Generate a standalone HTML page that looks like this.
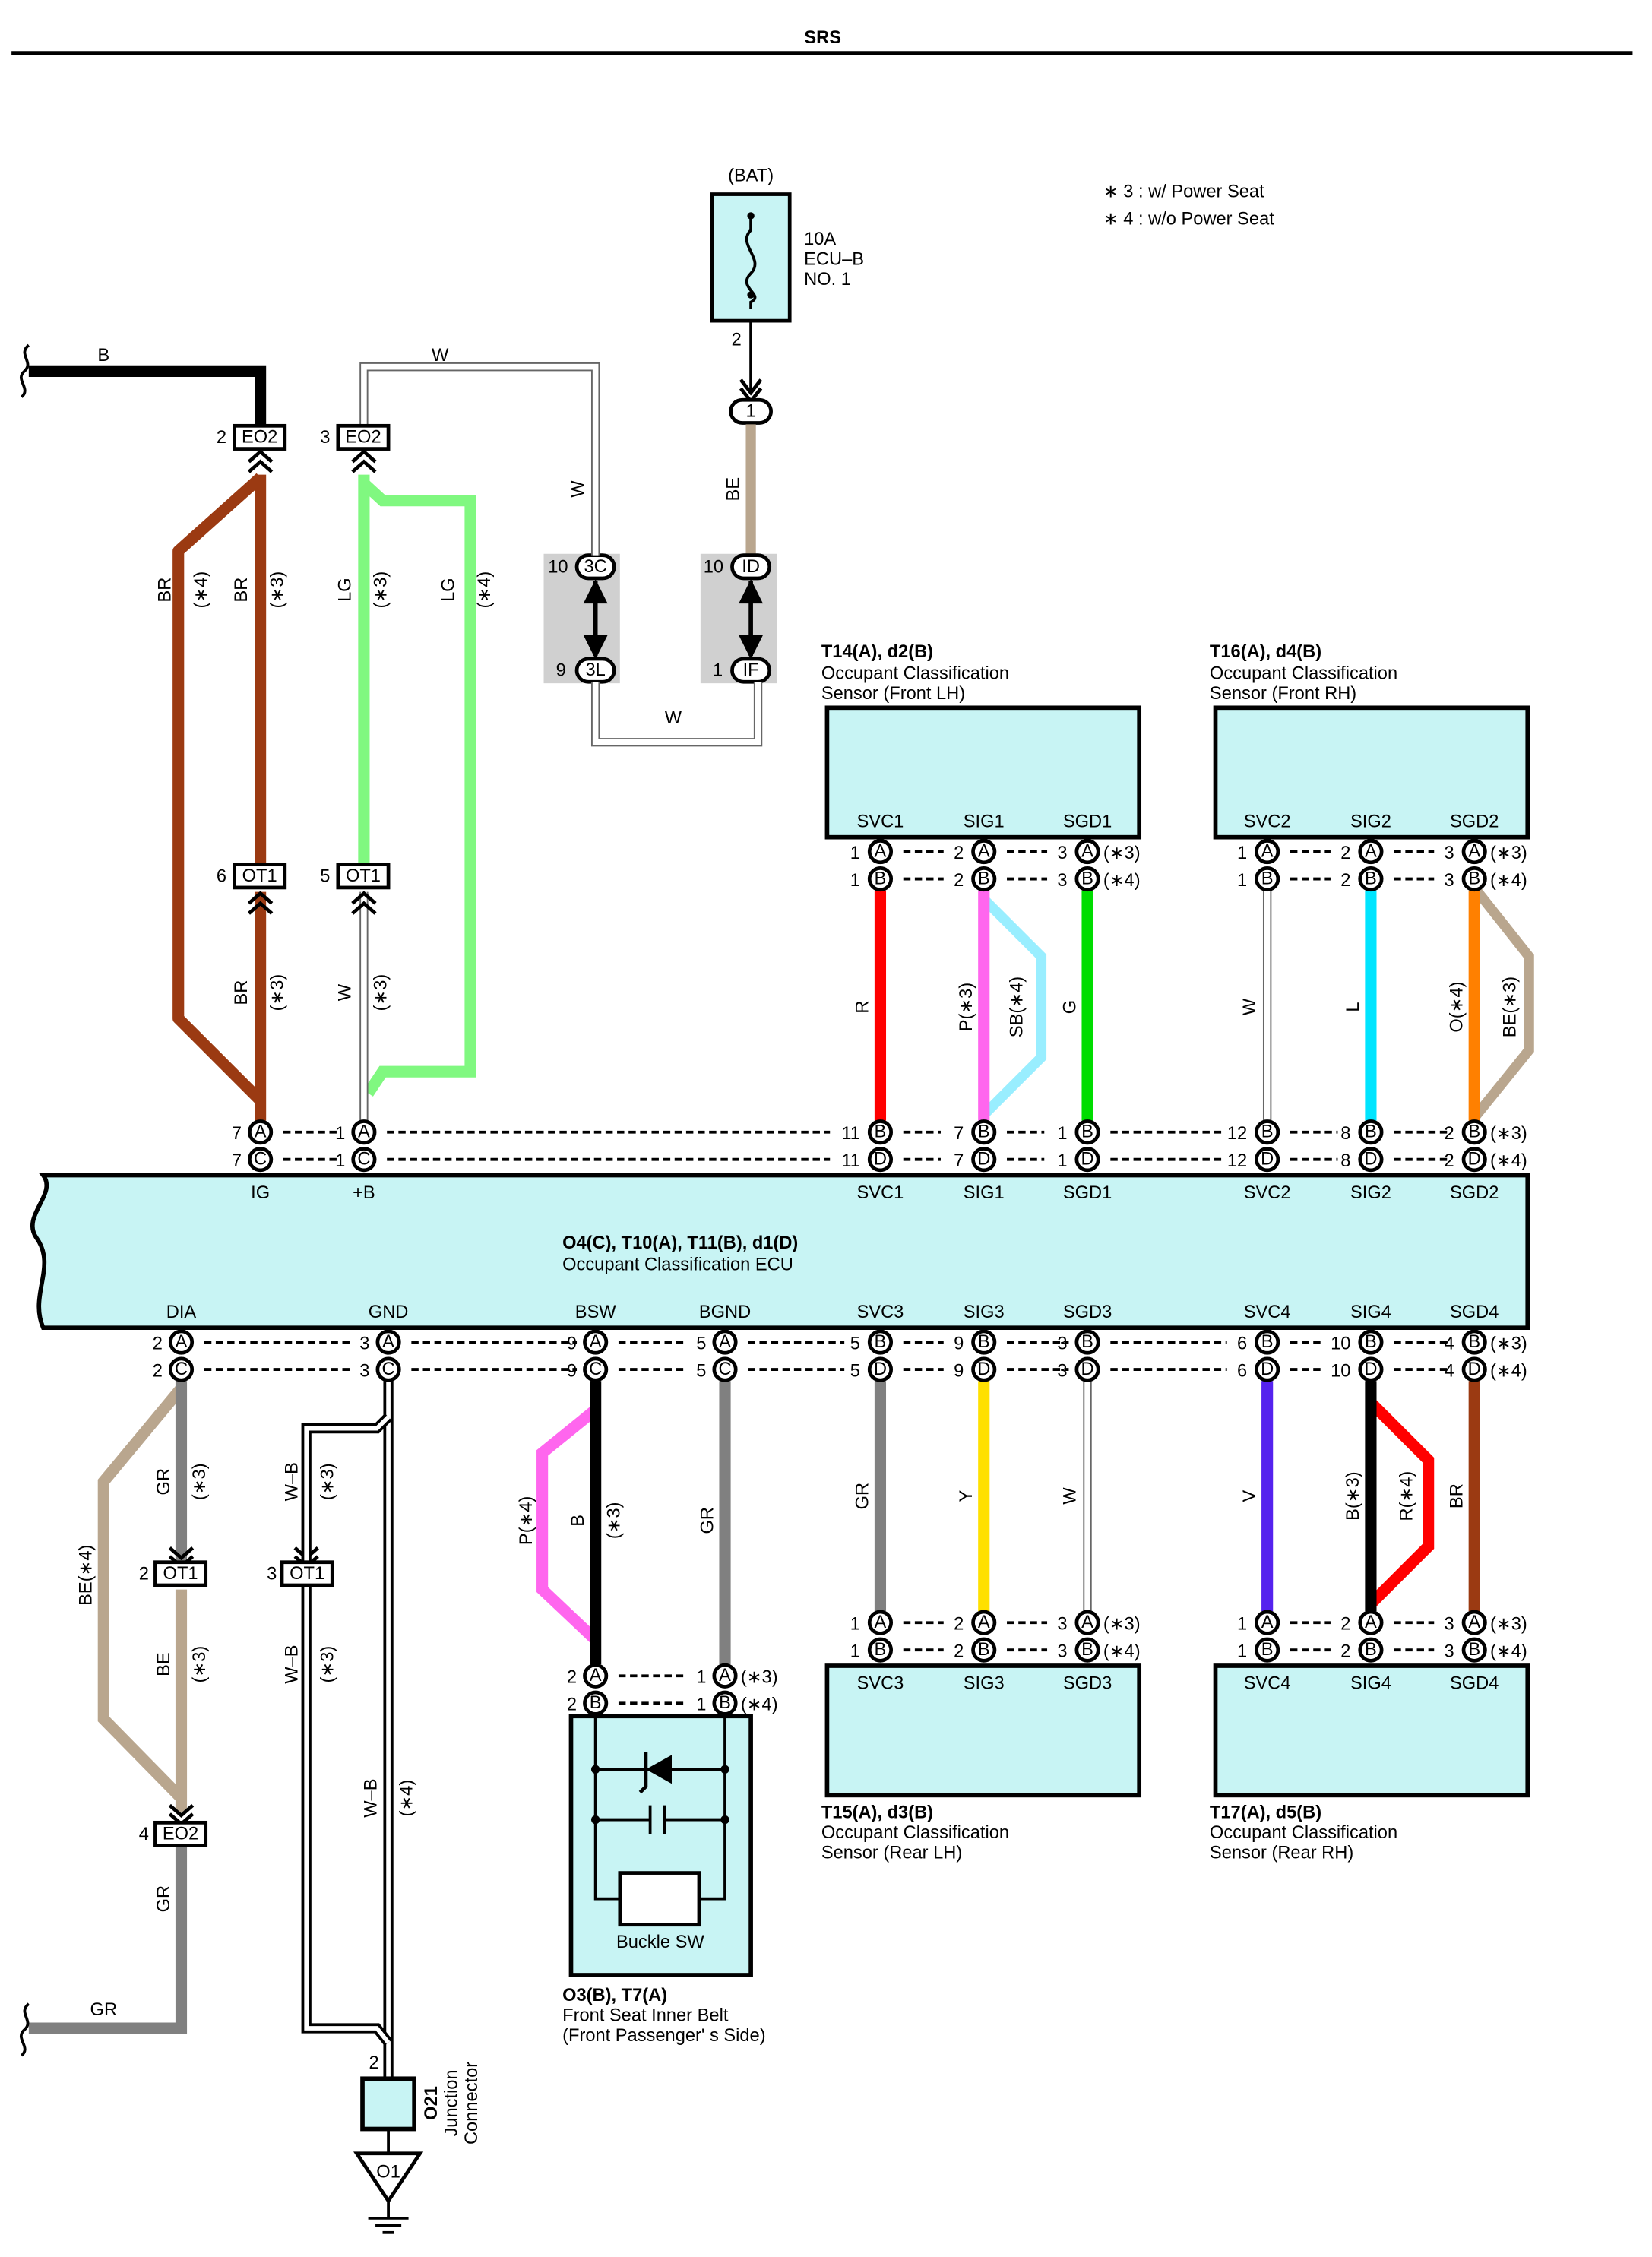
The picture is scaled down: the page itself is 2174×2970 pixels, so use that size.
<!DOCTYPE html>
<html><head><meta charset="utf-8"><style>
html,body{margin:0;padding:0;background:#fff}
svg{display:block}
text{font-family:"Liberation Sans",sans-serif;font-size:12.5px;fill:#000}
.b{font-weight:bold}
.c{text-anchor:middle;dominant-baseline:central}
.pc circle{fill:#fff;stroke:#000;stroke-width:2.5}
.d{stroke:#000;stroke-width:2;stroke-dasharray:5,3;fill:none}
.w{fill:none;stroke-linejoin:miter}
</style></head><body>
<svg width="2174" height="2970" viewBox="0 0 1148.5 1569" preserveAspectRatio="none" xmlns="http://www.w3.org/2000/svg">
<rect width="1150" height="1570" fill="#fff"/>
<text x="572" y="30" class="b" text-anchor="middle" font-size="15">SRS</text>
<line x1="8" y1="37" x2="1135" y2="37" stroke="#000" stroke-width="3"/>
<text x="767" y="137">∗ 3 : w/ Power Seat</text>
<text x="767" y="156">∗ 4 : w/o Power Seat</text>

<!-- BAT fuse -->
<text x="522" y="126" text-anchor="middle">(BAT)</text>
<rect x="495" y="135" width="54" height="88" fill="#c8f4f4" stroke="#000" stroke-width="2.5"/>
<path d="M522 150 v10 c-10 10 10 20 0 30 c-10 10 10 15 0 20 v5" fill="none" stroke="#000" stroke-width="2"/>
<circle cx="522" cy="150" r="2.5"/><circle cx="522" cy="205" r="2.5"/>
<text x="559" y="170">10A</text><text x="559" y="184">ECU–B</text><text x="559" y="198">NO. 1</text>
<text x="512" y="240" text-anchor="middle">2</text>
<line x1="522" y1="223" x2="522" y2="274" stroke="#000" stroke-width="2"/>
<path d="M515 264 l7 9 l7 -9 M515 270 l7 9 l7 -9" fill="none" stroke="#000" stroke-width="2.5"/>
<rect x="508" y="278" width="28" height="16" rx="8" fill="#fff" stroke="#000" stroke-width="2.5"/>
<text x="522" y="286" class="c">1</text>
<line x1="522" y1="295" x2="522" y2="385" stroke="#b9a68e" stroke-width="7"/>

<!-- gray connector boxes -->
<rect x="378" y="385" width="53" height="90" fill="#d0d0d0"/>
<rect x="487" y="385" width="53" height="90" fill="#d0d0d0"/>
<g>
<rect x="401" y="386" width="26" height="16" rx="8" fill="#fff" stroke="#000" stroke-width="2.5"/><text x="414" y="394" class="c">3C</text>
<rect x="401" y="458" width="26" height="16" rx="8" fill="#fff" stroke="#000" stroke-width="2.5"/><text x="414" y="466" class="c">3L</text>
<rect x="509" y="386" width="26" height="16" rx="8" fill="#fff" stroke="#000" stroke-width="2.5"/><text x="522" y="394" class="c">ID</text>
<rect x="509" y="458" width="26" height="16" rx="8" fill="#fff" stroke="#000" stroke-width="2.5"/><text x="522" y="466" class="c">IF</text>
</g>
<text x="388" y="398" text-anchor="middle">10</text><text x="390" y="470" text-anchor="middle">9</text>
<text x="496" y="398" text-anchor="middle">10</text><text x="499" y="470" text-anchor="middle">1</text>
<g stroke="#000" stroke-width="3" fill="#000">
<line x1="414" y1="404" x2="414" y2="456"/><line x1="522" y1="404" x2="522" y2="456"/>
<path d="M408 418 l6 -12 l6 12z M408 443 l6 12 l6 -12z M516 418 l6 -12 l6 12z M516 443 l6 12 l6 -12z"/>
</g>

<!-- W wires top -->
<g class="w">
<path d="M414 386 V255 H253 V296" stroke="#666" stroke-width="6"/>
<path d="M414 386 V255 H253 V296" stroke="#fff" stroke-width="4"/>
<path d="M414 474 V516 H527 V474" stroke="#666" stroke-width="6"/>
<path d="M414 474 V516 H527 V474" stroke="#fff" stroke-width="4"/>
</g>
<text x="306" y="251" text-anchor="middle">W</text>
<text x="468" y="503" text-anchor="middle">W</text>

<!-- B wire -->
<path d="M20 258 H181 V296" fill="none" stroke="#000" stroke-width="8"/>
<path d="M20 240 c-8 6 4 12 -3 18 c-7 6 5 12 -2 18" fill="none" stroke="#000" stroke-width="2"/>
<text x="72" y="251" text-anchor="middle">B</text>

<!-- EO2 top connectors -->
<rect x="163" y="296" width="35" height="16" fill="#fff" stroke="#000" stroke-width="2.5"/><text x="180.5" y="304" class="c">EO2</text><text x="154" y="308" text-anchor="middle">2</text>
<rect x="235" y="296" width="35" height="16" fill="#fff" stroke="#000" stroke-width="2.5"/><text x="252.5" y="304" class="c">EO2</text><text x="226" y="308" text-anchor="middle">3</text>

<!-- BR wires -->
<g fill="none" stroke="#9b3a12" stroke-width="8" stroke-linejoin="round">
<path d="M181 330 V600"/><path d="M181 620 V779"/>
<path d="M181 332 L124 383 V708 L181 765"/>
</g>
<!-- LG wires -->
<g fill="none" stroke="#80f880" stroke-width="8">
<path d="M253 330 V600"/>
<path d="M253 336 L266 348 H327 V745 H266 L256 760"/>
</g>
<path d="M253 620 V779" fill="none" stroke="#666" stroke-width="6"/>
<path d="M253 620 V779" fill="none" stroke="#fff" stroke-width="4"/>
<!-- chevrons -->
<g fill="none" stroke="#000" stroke-width="2.5">
<path d="M173 321 l8 -7 l8 7 M173 328 l8 -7 l8 7"/>
<path d="M245 321 l8 -7 l8 7 M245 328 l8 -7 l8 7"/>
<path d="M173 628 l8 -7 l8 7 M173 635 l8 -7 l8 7"/>
<path d="M245 628 l8 -7 l8 7 M245 635 l8 -7 l8 7"/>
</g>
<rect x="163" y="601" width="35" height="16" fill="#fff" stroke="#000" stroke-width="2.5"/><text x="180.5" y="609" class="c">OT1</text><text x="154" y="613" text-anchor="middle">6</text>
<rect x="235" y="601" width="35" height="16" fill="#fff" stroke="#000" stroke-width="2.5"/><text x="252.5" y="609" class="c">OT1</text><text x="226" y="613" text-anchor="middle">5</text>

<!-- Sensor boxes top -->
<rect x="575" y="492" width="217" height="90" fill="#c8f4f4" stroke="#000" stroke-width="3"/>
<rect x="845" y="492" width="217" height="90" fill="#c8f4f4" stroke="#000" stroke-width="3"/>
<text x="571" y="457" class="b">T14(A), d2(B)</text><text x="571" y="472">Occupant Classification</text><text x="571" y="486">Sensor (Front LH)</text>
<text x="841" y="457" class="b">T16(A), d4(B)</text><text x="841" y="472">Occupant Classification</text><text x="841" y="486">Sensor (Front RH)</text>
<g text-anchor="middle">
<text x="612" y="575">SVC1</text><text x="684" y="575">SIG1</text><text x="756" y="575">SGD1</text>
<text x="881" y="575">SVC2</text><text x="953" y="575">SIG2</text><text x="1025" y="575">SGD2</text>
</g>

<!-- top right wires -->
<line x1="612" y1="619" x2="612" y2="779" stroke="#ff0000" stroke-width="8"/>
<path d="M684 625 L724 665 V735 L684 775" fill="none" stroke="#99eeff" stroke-width="7"/>
<line x1="684" y1="619" x2="684" y2="779" stroke="#ff66ee" stroke-width="8"/>
<line x1="756" y1="619" x2="756" y2="779" stroke="#00dd00" stroke-width="8"/>
<line x1="881" y1="619" x2="881" y2="779" stroke="#666" stroke-width="6"/><line x1="881" y1="619" x2="881" y2="779" stroke="#fff" stroke-width="4"/>
<line x1="953" y1="619" x2="953" y2="779" stroke="#00e5ff" stroke-width="8"/>
<path d="M1025 617 L1063 665 V730 L1025 777" fill="none" stroke="#b9a68e" stroke-width="7"/>
<line x1="1025" y1="619" x2="1025" y2="779" stroke="#ff8000" stroke-width="8"/>

<!-- ECU box -->
<path d="M30 817 H1062 V923 H30 C20 900 40 880 25 860 C15 845 40 830 30 817 Z" fill="#c8f4f4" stroke="#000" stroke-width="3"/>
<text x="391" y="868" class="b">O4(C), T10(A), T11(B), d1(D)</text>
<text x="391" y="883">Occupant Classification ECU</text>
<g text-anchor="middle">
<text x="181" y="833">IG</text><text x="253" y="833">+B</text><text x="612" y="833">SVC1</text><text x="684" y="833">SIG1</text><text x="756" y="833">SGD1</text><text x="881" y="833">SVC2</text><text x="953" y="833">SIG2</text><text x="1025" y="833">SGD2</text>
<text x="126" y="916">DIA</text><text x="270" y="916">GND</text><text x="414" y="916">BSW</text><text x="504" y="916">BGND</text><text x="612" y="916">SVC3</text><text x="684" y="916">SIG3</text><text x="756" y="916">SGD3</text><text x="881" y="916">SVC4</text><text x="953" y="916">SIG4</text><text x="1025" y="916">SGD4</text>
</g>

<!-- dashed lines -->
<g class="d">
<path d="M197 787 H235 M269 787 H577 M628 787 H654 M700 787 H726 M772 787 H852 M897 787 H930 M969 787 H1007"/>
<path d="M197 806 H235 M269 806 H577 M628 806 H654 M700 806 H726 M772 806 H852 M897 806 H930 M969 806 H1007"/>
<path d="M628 592 H656 M700 592 H728 M897 592 H925 M969 592 H997"/>
<path d="M628 611 H656 M700 611 H728 M897 611 H925 M969 611 H997"/>
<path d="M142 933 H243 M286 933 H401 M430 933 H477 M520 933 H587 M628 933 H656 M700 933 H743 M772 933 H853 M897 933 H920 M969 933 H1007"/>
<path d="M142 952 H243 M286 952 H401 M430 952 H477 M520 952 H587 M628 952 H656 M700 952 H743 M772 952 H853 M897 952 H920 M969 952 H1007"/>
<path d="M628 1128 H656 M700 1128 H728 M897 1128 H925 M969 1128 H997"/>
<path d="M628 1147 H656 M700 1147 H728 M897 1147 H925 M969 1147 H997"/>
<path d="M430 1165 H477 M430 1184 H477"/>
</g>

<!-- bottom wires -->
<path d="M126 965 L72 1030 V1195 L126 1250" fill="none" stroke="#b9a68e" stroke-width="8"/>
<line x1="126" y1="960" x2="126" y2="1085" stroke="#808080" stroke-width="8"/>
<line x1="126" y1="1105" x2="126" y2="1260" stroke="#b9a68e" stroke-width="8"/>
<path d="M126 1283 V1410 H20" fill="none" stroke="#808080" stroke-width="8"/>
<path d="M20 1393 c-8 6 4 12 -3 18 c-7 6 5 12 -2 18" fill="none" stroke="#000" stroke-width="2"/>
<text x="72" y="1401" text-anchor="middle">GR</text>
<g fill="none" stroke="#000" stroke-width="2.5">
<path d="M118 1076 l8 7 l8 -7 M118 1082 l8 7 l8 -7"/>
<path d="M118 1255 l8 7 l8 -7 M118 1261 l8 7 l8 -7"/>
<path d="M205 1076 l8 7 l8 -7 M205 1082 l8 7 l8 -7"/>
</g>
<rect x="108" y="1086" width="35" height="16" fill="#fff" stroke="#000" stroke-width="2.5"/><text x="125.5" y="1094" class="c">OT1</text><text x="100" y="1098" text-anchor="middle">2</text>
<rect x="108" y="1267" width="35" height="16" fill="#fff" stroke="#000" stroke-width="2.5"/><text x="125.5" y="1275" class="c">EO2</text><text x="100" y="1279" text-anchor="middle">4</text>

<!-- W-B -->
<g fill="none">
<path d="M270 960 V1445" stroke="#000" stroke-width="7"/><path d="M270 960 V1445" stroke="#fff" stroke-width="3"/>
<path d="M270 985 L262 993 H213 V1085 M213 1102 V1410 H262 L270 1420" stroke="#000" stroke-width="7"/>
<path d="M270 985 L262 993 H213 V1085 M213 1102 V1410 H262 L270 1420" stroke="#fff" stroke-width="3"/>
</g>
<rect x="196" y="1086" width="35" height="16" fill="#fff" stroke="#000" stroke-width="2.5"/><text x="213.5" y="1094" class="c">OT1</text><text x="189" y="1098" text-anchor="middle">3</text>
<text x="260" y="1438" text-anchor="middle">2</text>
<rect x="252" y="1445" width="36" height="35" fill="#c8f4f4" stroke="#000" stroke-width="3"/>
<line x1="270" y1="1480" x2="270" y2="1497" stroke="#000" stroke-width="2"/>
<path d="M248 1497 H292 L270 1530 Z" fill="#fff" stroke="#000" stroke-width="2.5"/>
<text x="270" y="1510" class="c">O1</text>
<g stroke="#000" stroke-width="2"><line x1="270" y1="1530" x2="270" y2="1542"/><line x1="256" y1="1542" x2="284" y2="1542"/><line x1="261" y1="1547" x2="279" y2="1547"/><line x1="266" y1="1552" x2="274" y2="1552"/></g>
<text transform="translate(300,1462) rotate(-90)" class="c b">O21</text>
<text transform="translate(314,1462) rotate(-90)" class="c">Junction</text>
<text transform="translate(328,1462) rotate(-90)" class="c">Connector</text>

<!-- BSW / BGND -->
<path d="M414 980 L377 1010 V1105 L414 1140" fill="none" stroke="#ff66ee" stroke-width="8"/>
<line x1="414" y1="960" x2="414" y2="1157" stroke="#000" stroke-width="8"/>
<line x1="504" y1="960" x2="504" y2="1157" stroke="#808080" stroke-width="8"/>
<rect x="397" y="1193" width="125" height="180" fill="#c8f4f4" stroke="#000" stroke-width="3"/>
<g stroke="#000" stroke-width="2" fill="none">
<path d="M414 1193 V1320 H431 M504 1193 V1320 H486 M414 1230 H504 M414 1265 H452 M462 1265 H504"/>
<line x1="452" y1="1255" x2="452" y2="1275"/><line x1="462" y1="1255" x2="462" y2="1275"/>
<rect x="431" y="1302" width="55" height="36" fill="#fff" stroke-width="2.5"/>
</g>
<path d="M449 1230 L467 1220 V1240 Z" fill="#000"/>
<path d="M449 1218 V1242 l-4 4" stroke="#000" stroke-width="2.5" fill="none"/>
<g fill="#000"><circle cx="414" cy="1230" r="3"/><circle cx="504" cy="1230" r="3"/><circle cx="414" cy="1265" r="3"/><circle cx="504" cy="1265" r="3"/></g>
<text x="459" y="1354" text-anchor="middle">Buckle SW</text>
<text x="391" y="1391" class="b">O3(B), T7(A)</text><text x="391" y="1405">Front Seat Inner Belt</text><text x="391" y="1419">(Front Passenger' s Side)</text>

<!-- bottom sensors wires -->
<line x1="612" y1="960" x2="612" y2="1120" stroke="#808080" stroke-width="8"/>
<line x1="684" y1="960" x2="684" y2="1120" stroke="#ffe000" stroke-width="8"/>
<line x1="756" y1="960" x2="756" y2="1120" stroke="#666" stroke-width="6"/><line x1="756" y1="960" x2="756" y2="1120" stroke="#fff" stroke-width="4"/>
<line x1="881" y1="960" x2="881" y2="1120" stroke="#5522ee" stroke-width="8"/>
<path d="M953 975 L993 1015 V1075 L953 1115" fill="none" stroke="#ff0000" stroke-width="8"/>
<line x1="953" y1="960" x2="953" y2="1120" stroke="#000" stroke-width="8"/>
<line x1="1025" y1="960" x2="1025" y2="1120" stroke="#9b3a12" stroke-width="8"/>
<rect x="575" y="1158" width="217" height="90" fill="#c8f4f4" stroke="#000" stroke-width="3"/>
<rect x="845" y="1158" width="217" height="90" fill="#c8f4f4" stroke="#000" stroke-width="3"/>
<g text-anchor="middle">
<text x="612" y="1174">SVC3</text><text x="684" y="1174">SIG3</text><text x="756" y="1174">SGD3</text>
<text x="881" y="1174">SVC4</text><text x="953" y="1174">SIG4</text><text x="1025" y="1174">SGD4</text>
</g>
<text x="571" y="1264" class="b">T15(A), d3(B)</text><text x="571" y="1278">Occupant Classification</text><text x="571" y="1292">Sensor (Rear LH)</text>
<text x="841" y="1264" class="b">T17(A), d5(B)</text><text x="841" y="1278">Occupant Classification</text><text x="841" y="1292">Sensor (Rear RH)</text>

<!-- pins -->
<g class="pc">
<circle cx="181" cy="787" r="7.5"/><circle cx="253" cy="787" r="7.5"/><circle cx="612" cy="787" r="7.5"/><circle cx="684" cy="787" r="7.5"/><circle cx="756" cy="787" r="7.5"/><circle cx="881" cy="787" r="7.5"/><circle cx="953" cy="787" r="7.5"/><circle cx="1025" cy="787" r="7.5"/>
<circle cx="181" cy="806" r="7.5"/><circle cx="253" cy="806" r="7.5"/><circle cx="612" cy="806" r="7.5"/><circle cx="684" cy="806" r="7.5"/><circle cx="756" cy="806" r="7.5"/><circle cx="881" cy="806" r="7.5"/><circle cx="953" cy="806" r="7.5"/><circle cx="1025" cy="806" r="7.5"/>
<circle cx="612" cy="592" r="7.5"/><circle cx="684" cy="592" r="7.5"/><circle cx="756" cy="592" r="7.5"/><circle cx="881" cy="592" r="7.5"/><circle cx="953" cy="592" r="7.5"/><circle cx="1025" cy="592" r="7.5"/>
<circle cx="612" cy="611" r="7.5"/><circle cx="684" cy="611" r="7.5"/><circle cx="756" cy="611" r="7.5"/><circle cx="881" cy="611" r="7.5"/><circle cx="953" cy="611" r="7.5"/><circle cx="1025" cy="611" r="7.5"/>
<circle cx="126" cy="933" r="7.5"/><circle cx="270" cy="933" r="7.5"/><circle cx="414" cy="933" r="7.5"/><circle cx="504" cy="933" r="7.5"/><circle cx="612" cy="933" r="7.5"/><circle cx="684" cy="933" r="7.5"/><circle cx="756" cy="933" r="7.5"/><circle cx="881" cy="933" r="7.5"/><circle cx="953" cy="933" r="7.5"/><circle cx="1025" cy="933" r="7.5"/>
<circle cx="126" cy="952" r="7.5"/><circle cx="270" cy="952" r="7.5"/><circle cx="414" cy="952" r="7.5"/><circle cx="504" cy="952" r="7.5"/><circle cx="612" cy="952" r="7.5"/><circle cx="684" cy="952" r="7.5"/><circle cx="756" cy="952" r="7.5"/><circle cx="881" cy="952" r="7.5"/><circle cx="953" cy="952" r="7.5"/><circle cx="1025" cy="952" r="7.5"/>
<circle cx="612" cy="1128" r="7.5"/><circle cx="684" cy="1128" r="7.5"/><circle cx="756" cy="1128" r="7.5"/><circle cx="881" cy="1128" r="7.5"/><circle cx="953" cy="1128" r="7.5"/><circle cx="1025" cy="1128" r="7.5"/>
<circle cx="612" cy="1147" r="7.5"/><circle cx="684" cy="1147" r="7.5"/><circle cx="756" cy="1147" r="7.5"/><circle cx="881" cy="1147" r="7.5"/><circle cx="953" cy="1147" r="7.5"/><circle cx="1025" cy="1147" r="7.5"/>
<circle cx="414" cy="1165" r="7.5"/><circle cx="504" cy="1165" r="7.5"/><circle cx="414" cy="1184" r="7.5"/><circle cx="504" cy="1184" r="7.5"/>
</g>
<g class="c" font-size="11">
<text x="181" y="787" font-size="11">A</text><text x="253" y="787" font-size="11">A</text><text x="612" y="787" font-size="11">B</text><text x="684" y="787" font-size="11">B</text><text x="756" y="787" font-size="11">B</text><text x="881" y="787" font-size="11">B</text><text x="953" y="787" font-size="11">B</text><text x="1025" y="787" font-size="11">B</text>
<text x="181" y="806" font-size="11">C</text><text x="253" y="806" font-size="11">C</text><text x="612" y="806" font-size="11">D</text><text x="684" y="806" font-size="11">D</text><text x="756" y="806" font-size="11">D</text><text x="881" y="806" font-size="11">D</text><text x="953" y="806" font-size="11">D</text><text x="1025" y="806" font-size="11">D</text>
<text x="612" y="592" font-size="11">A</text><text x="684" y="592" font-size="11">A</text><text x="756" y="592" font-size="11">A</text><text x="881" y="592" font-size="11">A</text><text x="953" y="592" font-size="11">A</text><text x="1025" y="592" font-size="11">A</text>
<text x="612" y="611" font-size="11">B</text><text x="684" y="611" font-size="11">B</text><text x="756" y="611" font-size="11">B</text><text x="881" y="611" font-size="11">B</text><text x="953" y="611" font-size="11">B</text><text x="1025" y="611" font-size="11">B</text>
<text x="126" y="933" font-size="11">A</text><text x="270" y="933" font-size="11">A</text><text x="414" y="933" font-size="11">A</text><text x="504" y="933" font-size="11">A</text><text x="612" y="933" font-size="11">B</text><text x="684" y="933" font-size="11">B</text><text x="756" y="933" font-size="11">B</text><text x="881" y="933" font-size="11">B</text><text x="953" y="933" font-size="11">B</text><text x="1025" y="933" font-size="11">B</text>
<text x="126" y="952" font-size="11">C</text><text x="270" y="952" font-size="11">C</text><text x="414" y="952" font-size="11">C</text><text x="504" y="952" font-size="11">C</text><text x="612" y="952" font-size="11">D</text><text x="684" y="952" font-size="11">D</text><text x="756" y="952" font-size="11">D</text><text x="881" y="952" font-size="11">D</text><text x="953" y="952" font-size="11">D</text><text x="1025" y="952" font-size="11">D</text>
<text x="612" y="1128" font-size="11">A</text><text x="684" y="1128" font-size="11">A</text><text x="756" y="1128" font-size="11">A</text><text x="881" y="1128" font-size="11">A</text><text x="953" y="1128" font-size="11">A</text><text x="1025" y="1128" font-size="11">A</text>
<text x="612" y="1147" font-size="11">B</text><text x="684" y="1147" font-size="11">B</text><text x="756" y="1147" font-size="11">B</text><text x="881" y="1147" font-size="11">B</text><text x="953" y="1147" font-size="11">B</text><text x="1025" y="1147" font-size="11">B</text>
<text x="414" y="1165" font-size="11">A</text><text x="504" y="1165" font-size="11">A</text><text x="414" y="1184" font-size="11">B</text><text x="504" y="1184" font-size="11">B</text>
</g>
<!-- pin numbers -->
<g text-anchor="end">
<text x="168" y="792">7</text><text x="240" y="792">1</text><text x="598" y="792">11</text><text x="670" y="792">7</text><text x="742" y="792">1</text><text x="867" y="792">12</text><text x="939" y="792">8</text><text x="1011" y="792">2</text>
<text x="168" y="811">7</text><text x="240" y="811">1</text><text x="598" y="811">11</text><text x="670" y="811">7</text><text x="742" y="811">1</text><text x="867" y="811">12</text><text x="939" y="811">8</text><text x="1011" y="811">2</text>
<text x="598" y="597">1</text><text x="670" y="597">2</text><text x="742" y="597">3</text><text x="867" y="597">1</text><text x="939" y="597">2</text><text x="1011" y="597">3</text>
<text x="598" y="616">1</text><text x="670" y="616">2</text><text x="742" y="616">3</text><text x="867" y="616">1</text><text x="939" y="616">2</text><text x="1011" y="616">3</text>
<text x="113" y="938">2</text><text x="257" y="938">3</text><text x="401" y="938">9</text><text x="491" y="938">5</text><text x="598" y="938">5</text><text x="670" y="938">9</text><text x="742" y="938">3</text><text x="867" y="938">6</text><text x="939" y="938">10</text><text x="1011" y="938">4</text>
<text x="113" y="957">2</text><text x="257" y="957">3</text><text x="401" y="957">9</text><text x="491" y="957">5</text><text x="598" y="957">5</text><text x="670" y="957">9</text><text x="742" y="957">3</text><text x="867" y="957">6</text><text x="939" y="957">10</text><text x="1011" y="957">4</text>
<text x="598" y="1133">1</text><text x="670" y="1133">2</text><text x="742" y="1133">3</text><text x="867" y="1133">1</text><text x="939" y="1133">2</text><text x="1011" y="1133">3</text>
<text x="598" y="1152">1</text><text x="670" y="1152">2</text><text x="742" y="1152">3</text><text x="867" y="1152">1</text><text x="939" y="1152">2</text><text x="1011" y="1152">3</text>
<text x="401" y="1170">2</text><text x="491" y="1170">1</text><text x="401" y="1189">2</text><text x="491" y="1189">1</text>
</g>
<g>
<text x="1036" y="792">(∗3)</text><text x="1036" y="811">(∗4)</text>
<text x="767" y="597">(∗3)</text><text x="767" y="616">(∗4)</text><text x="1036" y="597">(∗3)</text><text x="1036" y="616">(∗4)</text>
<text x="1036" y="938">(∗3)</text><text x="1036" y="957">(∗4)</text>
<text x="767" y="1133">(∗3)</text><text x="767" y="1152">(∗4)</text><text x="1036" y="1133">(∗3)</text><text x="1036" y="1152">(∗4)</text>
<text x="515" y="1170">(∗3)</text><text x="515" y="1189">(∗4)</text>
</g>

<!-- rotated wire labels -->
<g class="c">
<text transform="translate(115,410) rotate(-90)">BR</text><text transform="translate(140,410) rotate(-90)">(∗4)</text>
<text transform="translate(168,410) rotate(-90)">BR</text><text transform="translate(193,410) rotate(-90)">(∗3)</text>
<text transform="translate(240,410) rotate(-90)">LG</text><text transform="translate(265,410) rotate(-90)">(∗3)</text>
<text transform="translate(312,410) rotate(-90)">LG</text><text transform="translate(337,410) rotate(-90)">(∗4)</text>
<text transform="translate(168,690) rotate(-90)">BR</text><text transform="translate(193,690) rotate(-90)">(∗3)</text>
<text transform="translate(240,690) rotate(-90)">W</text><text transform="translate(265,690) rotate(-90)">(∗3)</text>
<text transform="translate(402,340) rotate(-90)">W</text><text transform="translate(510,340) rotate(-90)">BE</text>
<text transform="translate(600,700) rotate(-90)">R</text><text transform="translate(672,700) rotate(-90)">P(∗3)</text>
<text transform="translate(707,700) rotate(-90)">SB(∗4)</text><text transform="translate(744,700) rotate(-90)">G</text>
<text transform="translate(869,700) rotate(-90)">W</text><text transform="translate(941,700) rotate(-90)">L</text>
<text transform="translate(1013,700) rotate(-90)">O(∗4)</text><text transform="translate(1050,700) rotate(-90)">BE(∗3)</text>
<text transform="translate(114,1030) rotate(-90)">GR</text><text transform="translate(139,1030) rotate(-90)">(∗3)</text>
<text transform="translate(60,1095) rotate(-90)">BE(∗4)</text>
<text transform="translate(114,1157) rotate(-90)">BE</text><text transform="translate(139,1157) rotate(-90)">(∗3)</text>
<text transform="translate(114,1320) rotate(-90)">GR</text>
<text transform="translate(203,1030) rotate(-90)">W–B</text><text transform="translate(228,1030) rotate(-90)">(∗3)</text>
<text transform="translate(203,1157) rotate(-90)">W–B</text><text transform="translate(228,1157) rotate(-90)">(∗3)</text>
<text transform="translate(258,1250) rotate(-90)">W–B</text><text transform="translate(283,1250) rotate(-90)">(∗4)</text>
<text transform="translate(366,1057) rotate(-90)">P(∗4)</text><text transform="translate(402,1057) rotate(-90)">B</text>
<text transform="translate(427,1057) rotate(-90)">(∗3)</text><text transform="translate(492,1057) rotate(-90)">GR</text>
<text transform="translate(600,1040) rotate(-90)">GR</text><text transform="translate(672,1040) rotate(-90)">Y</text>
<text transform="translate(744,1040) rotate(-90)">W</text><text transform="translate(869,1040) rotate(-90)">V</text>
<text transform="translate(941,1040) rotate(-90)">B(∗3)</text><text transform="translate(978,1040) rotate(-90)">R(∗4)</text>
<text transform="translate(1013,1040) rotate(-90)">BR</text>
</g>
</svg>
</body></html>
